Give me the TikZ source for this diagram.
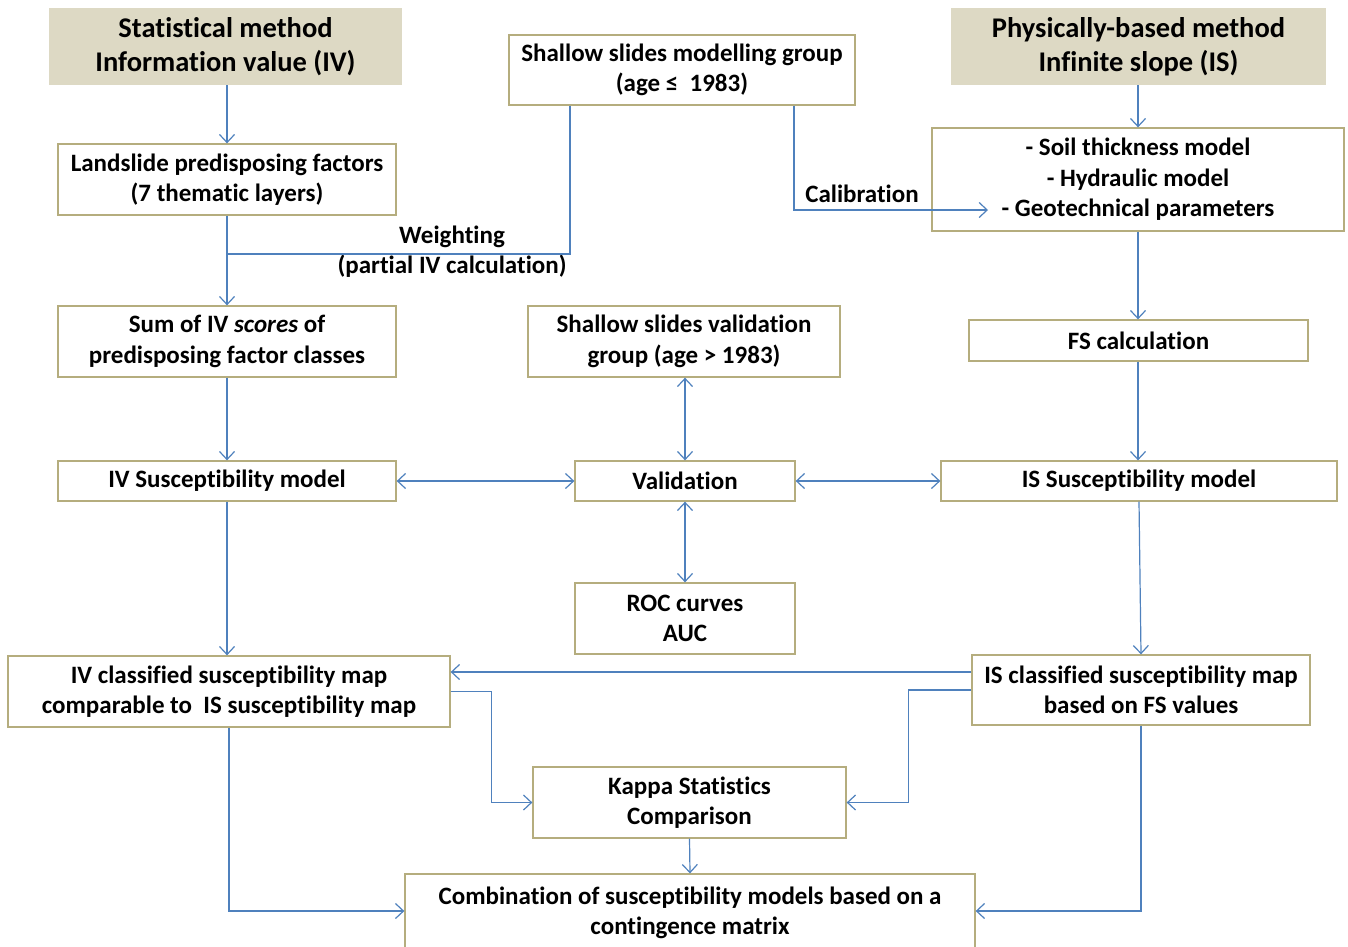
\documentclass[tikz,border=0pt]{standalone}
\usepackage{fontspec}
\setmainfont{Carlito}[Ligatures=CommonOff]
\usetikzlibrary{arrows.meta}

\definecolor{boxline}{HTML}{B5AD7E}
\definecolor{headfill}{HTML}{DDD9C4}
\definecolor{flow}{HTML}{4F81BD}

\tikzset{
  box/.style={draw=boxline, line width=1.3pt, fill=white, align=center,
    font=\fontsize{25}{30.5}\selectfont\bfseries, inner sep=0pt},
  head/.style={fill=headfill, align=center,
    font=\fontsize{28.5}{34}\selectfont\bfseries, inner sep=0pt},
  lbl/.style={align=center, font=\fontsize{25}{30}\selectfont\bfseries, inner sep=0pt},
  plain/.style={draw=flow, line width=1.2pt},
  flowline/.style={plain, -{Straight Barb[length=8pt,width=15pt]}},
  both/.style={plain, {Straight Barb[length=8pt,width=15pt]}-{Straight Barb[length=8pt,width=15pt]}},
}

\begin{document}
\begin{tikzpicture}[x=1pt, y=-1pt]
      \useasboundingbox (0,0) rectangle (1348,946);

      % headers
      \node[head, minimum width=353pt, minimum height=77pt] (stat) at (225.5,46.5)
        {Statistical method\\Information value (IV)};
      \node[head, minimum width=375pt, minimum height=77pt] (phys) at (1138.5,46.5)
        {Physically-based method\\Infinite slope (IS)};
      \node[box, minimum width=346pt, minimum height=70pt] (model) at (682,70)
        {Shallow slides modelling group\\(age ≤~ 1983)};

      % left column
      \node[box, minimum width=338pt, minimum height=71pt] (factors) at (227,179.5)
        {Landslide predisposing factors\\(7 thematic layers)};
      \node[box, minimum width=338pt, minimum height=71pt] (sum) at (227,341.5)
        {Sum of IV \textit{scores} of\\predisposing factor classes};
      \node[box, minimum width=338pt, minimum height=40pt] (ivmodel) at (227,481)
        {IV Susceptibility model};
      \node[box, minimum width=442pt, minimum height=71pt] (ivmap) at (229,691.5)
        {IV classified susceptibility map\\comparable to~ IS susceptibility map};

      % middle column
      \node[box, minimum width=312pt, minimum height=71pt] (valgroup) at (684,341.5)
        {Shallow slides validation\\group (age > 1983)};
      \node[box, minimum width=220pt, minimum height=40pt] (validation) at (685,481)
        {Validation};
      \node[box, minimum width=220pt, minimum height=71pt] (roc) at (685,618.5)
        {ROC curves\\AUC};
      \node[box, minimum width=313pt, minimum height=71pt] (kappa) at (689.5,802.5)
        {Kappa Statistics\\Comparison};
      \node[box, minimum width=570pt, minimum height=78pt] (combo) at (690,913)
        {Combination of susceptibility models based on a\\contingence matrix};

      % right column
      \node[box, minimum width=412pt, minimum height=103pt] (params) at (1138,179.5)
        {- Soil thickness model\\- Hydraulic model\\- Geotechnical parameters};
      \node[box, minimum width=339pt, minimum height=41pt] (fs) at (1138.5,340.5)
        {FS calculation};
      \node[box, minimum width=396pt, minimum height=40pt] (ismodel) at (1139,481)
        {IS Susceptibility model};
      \node[box, minimum width=338pt, minimum height=70pt] (ismap) at (1141,690)
        {IS classified susceptibility map\\based on FS values};

      % labels
      \node[lbl] (weightlbl) at (452,252) {Weighting\\(partial IV calculation)};
      \node[lbl] (caliblbl) at (862,194) {Calibration};

      \coordinate (wj) at (228,254);
      \coordinate (calib) at (988,210);

      % connectors
      \draw[flowline] (stat.south -| factors.north) -- (factors.north);
      \draw[flowline] (factors.south) -- (sum.north);
      \draw[plain] ([xshift=-112pt]model.south) |- (wj);
      \draw[flowline] ([xshift=112pt]model.south) |- (calib);
      \draw[flowline] (phys.south -| params.north) -- (params.north);
      \draw[flowline] (params.south) -- (params.south |- fs.north);
      \draw[flowline] (params.south |- fs.south) -- (params.south |- ismodel.north);
      \draw[flowline] (sum.south) -- (ivmodel.north);
      \draw[both] (valgroup.south -| validation.north) -- (validation.north);
      \draw[both] (ivmodel.east) -- (validation.west);
      \draw[both] (validation.east) -- (ismodel.west);
      \draw[both] (validation.south) -- (roc.north);
      \draw[flowline] (ivmodel.south) -- (ivmodel.south |- ivmap.north);
      \draw[flowline] (ismodel.south) -- (ismap.north);
      \draw[flowline] ([yshift=18pt]ismap.west) -- ([yshift=18pt]ismap.west -| ivmap.east);
      \draw[flowline] (ivmap.east) -- ++(41,0) |- (kappa.west);
      \draw[flowline] (ismap.west) -- ++(-63,0) |- (kappa.east);
      \draw[flowline] (kappa.south) -- (combo.north);
      \draw[flowline] (ivmap.south) |- ([yshift=2pt]combo.west);
      \draw[flowline] (ismap.south) |- ([yshift=2pt]combo.east);
\end{tikzpicture}
\end{document}
